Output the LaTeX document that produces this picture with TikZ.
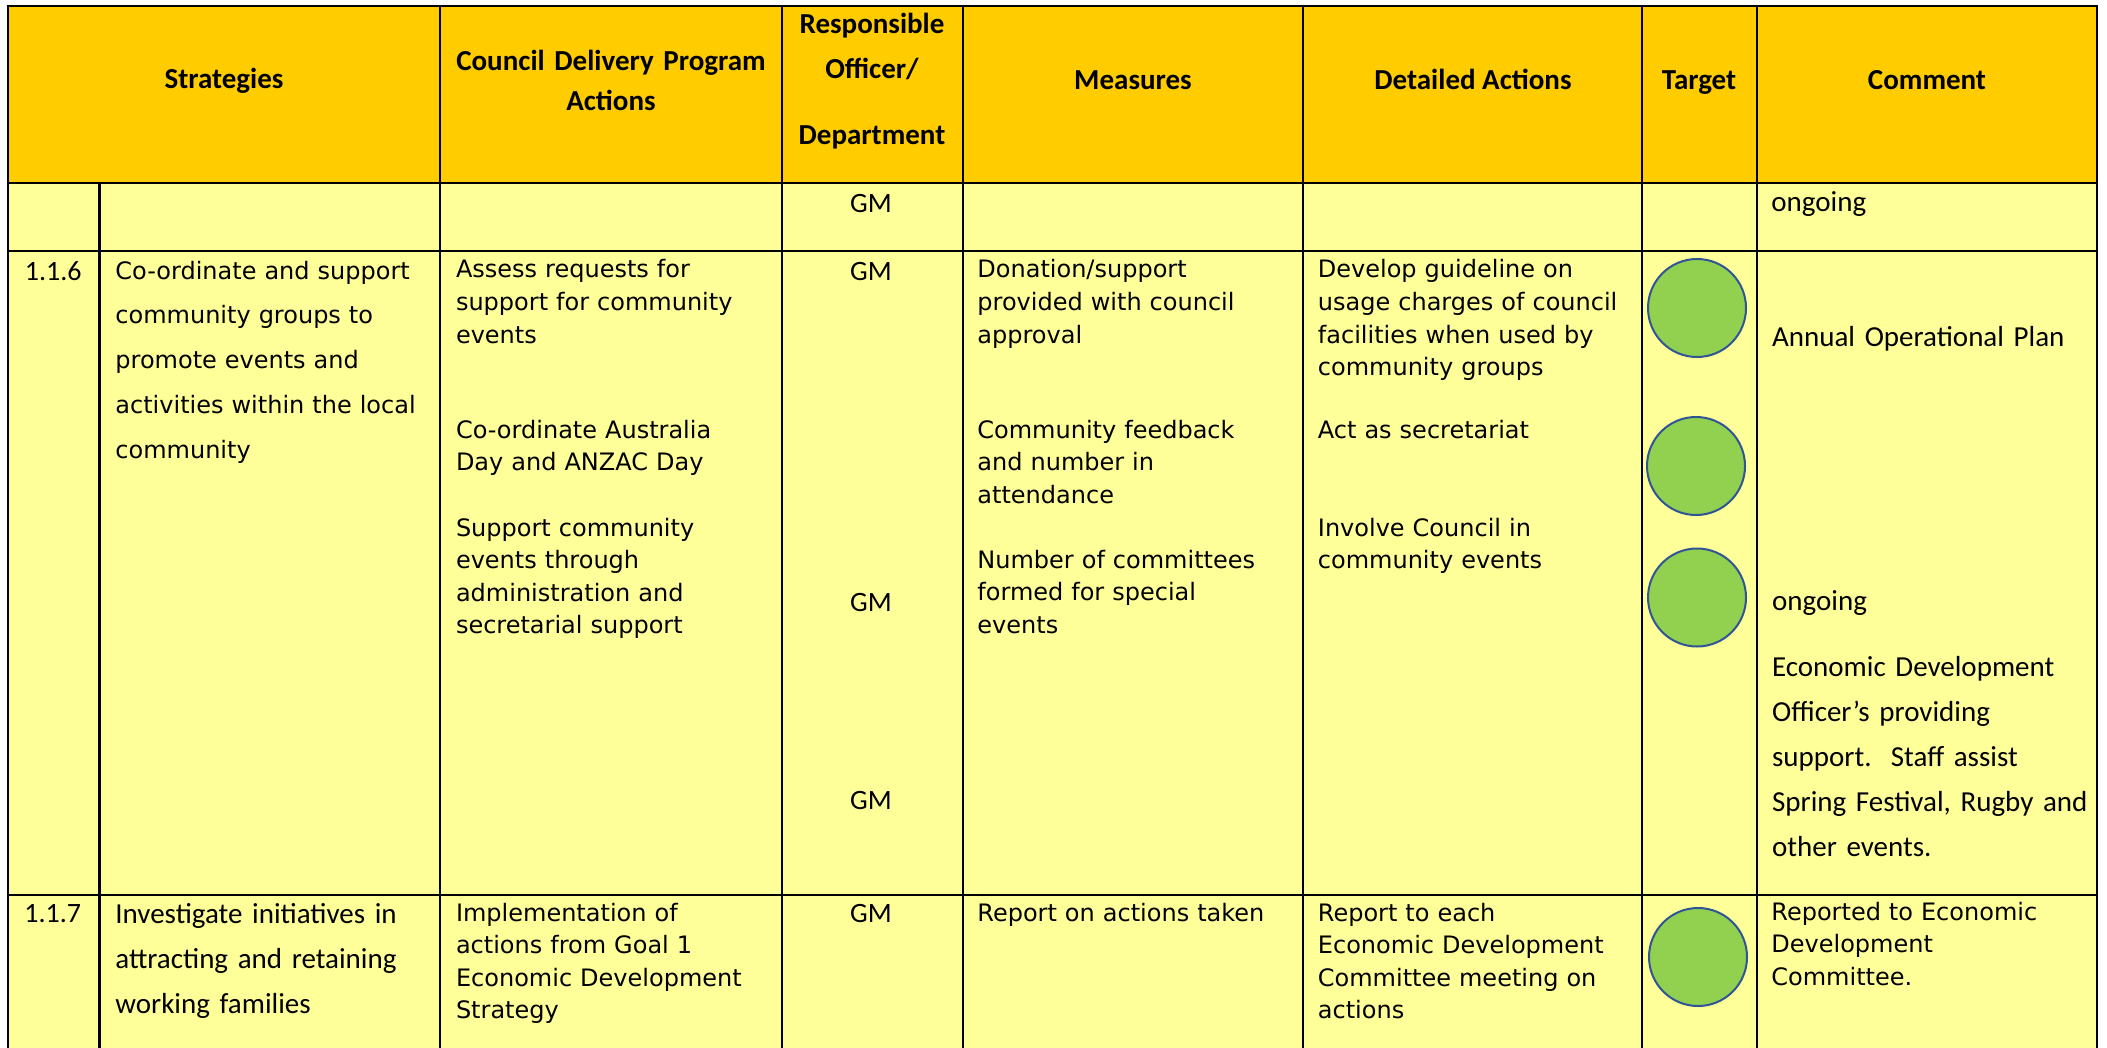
\documentclass[tikz,border=0pt]{standalone}
\usepackage{fontspec}
\usepackage{xcolor}
\usepackage{tikz}
\newfontfamily\tahfont{DejaVu Sans}
\newfontfamily\calfont{Carlito}
\definecolor{hdrgold}{RGB}{255,204,0}
\definecolor{rowyellow}{RGB}{255,255,153}
\definecolor{dotgreen}{RGB}{146,208,80}
\definecolor{dotblue}{RGB}{47,85,151}

\begin{document}
\begin{tikzpicture}[x=0.5pt, y=-0.5pt,
			rule/.style={line width=1.1pt, black},
			hdr/.style={font=\calfont\bfseries\fontsize{14.5}{20}\selectfont, anchor=base, inner sep=0pt, align=center},
			tah/.style={font=\tahfont\fontsize{12}{16.25}\selectfont, anchor=base west, inner sep=0pt, align=left, text width=260pt},
			cal/.style={font=\calfont\fontsize{14.5}{22.5}\selectfont, anchor=base west, inner sep=0pt, align=left, text width=260pt},
			gm/.style={font=\calfont\fontsize{14}{16}\selectfont, anchor=base, inner sep=0pt},
			dot/.style={circle, minimum size=49pt, inner sep=0pt, fill=dotgreen, draw=dotblue, line width=1pt}]
			
			\useasboundingbox (0,0) rectangle (2107,1048);
			\fill[hdrgold] (8,6) rectangle (2097,183);
			\fill[rowyellow] (8,183) rectangle (2097,1048);
			
			% grid
			\draw[rule] (8,1048) -- (8,6) -- (2097,6) -- (2097,1048);
			\foreach \y in {183,251,895} \draw[rule] (8,\y) -- (2097,\y);
			\foreach \x in {440,782,963,1303,1642,1757} \draw[rule] (\x,6) -- (\x,1048);
			\draw[rule] (99.5,183) -- (99.5,1048);
			
			% header
			\node[hdr] (hstrat) at (224,89) {Strategies};
			\node[hdr, text width=165pt] (hcdp) at (611,71) {Council Delivery Program\\Actions};
			\node[hdr, text width=85pt, font=\calfont\bfseries\fontsize{14.5}{22.5}\selectfont] (hresp) at (872,34) {Responsible\\Officer/\\[10.5pt]Department};
			\node[hdr] (hmeas) at (1133,90) {Measures};
			\node[hdr] (hdet) at (1473,90) {Detailed Actions};
			\node[hdr] (htarget) at (1699,90) {Target};
			\node[hdr] (hcomment) at (1927,90) {Comment};
			
			% row carried over
			\node[gm] (gm0) at (871,213) {GM};
			\node[cal] (com0) at (1771,212) {ongoing};
			
			% 1.1.6
			\node[gm, anchor=base west] (num116) at (24.5,280) {1.1.6};
			\node[tah, font=\tahfont\fontsize{12}{22.4}\selectfont] (strat116) at (115,279) {Co-ordinate and support\\community groups to\\promote events and\\activities within the local\\community};
			\node[tah] (cdp116a) at (455.6,278) {Assess requests for\\support for community\\events};
			\node[tah] (cdp116b) at (455.6,438) {Co-ordinate Australia\\Day and ANZAC Day};
			\node[tah] (cdp116c) at (455.6,536) {Support community\\events through\\administration and\\secretarial support};
			\node[gm] (gm116a) at (871,280) {GM};
			\node[gm] (gm116b) at (871,611) {GM};
			\node[gm] (gm116c) at (871,809) {GM};
			\node[tah] (meas116a) at (977,278) {Donation/support\\provided with council\\approval};
			\node[tah] (meas116b) at (977,438) {Community feedback\\and number in\\attendance};
			\node[tah] (meas116c) at (977,568) {Number of committees\\formed for special\\events};
			\node[tah] (det116a) at (1317.5,278) {Develop guideline on\\usage charges of council\\facilities when used by\\community groups};
			\node[tah] (det116b) at (1317.5,438) {Act as secretariat};
			\node[tah] (det116c) at (1317.5,536) {Involve Council in\\community events};
			\node[dot] (t116a) at (1697,308) {};
			\node[dot] (t116b) at (1696,466) {};
			\node[dot] (t116c) at (1697,597.5) {};
			\node[cal] (com116a) at (1771.7,346) {Annual Operational Plan};
			\node[cal] (com116b) at (1771.7,610) {ongoing};
			\node[cal] (com116c) at (1771.7,676) {Economic Development\\Officer’s providing\\support.\ \ Staff assist\\Spring Festival, Rugby and\\other events.};
			
			% 1.1.7
			\node[gm, anchor=base west] (num117) at (24,922) {1.1.7};
			\node[cal] (strat117) at (115,923) {Investigate initiatives in\\attracting and retaining\\working families};
			\node[tah] (cdp117) at (455.6,921) {Implementation of\\actions from Goal 1\\Economic Development\\Strategy};
			\node[gm] (gm117) at (871,922) {GM};
			\node[tah] (meas117) at (977,921) {Report on actions taken};
			\node[tah] (det117) at (1317.5,921) {Report to each\\Economic Development\\Committee meeting on\\actions};
			\node[dot] (t117) at (1698,957) {};
			\node[tah] (com117) at (1771,920) {Reported to Economic\\Development\\Committee.};
		\end{tikzpicture}
\end{document}
